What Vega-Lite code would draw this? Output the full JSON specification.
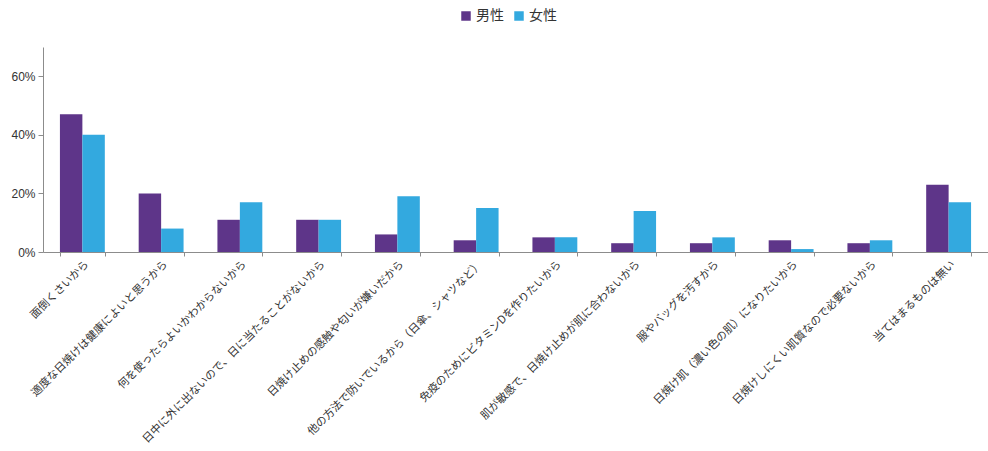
{
  "$schema": "https://vega.github.io/schema/vega-lite/v6.json",
  "width": 945,
  "height": 205,
  "autosize": "none",
  "padding": {"left": 43, "top": 47, "right": 0, "bottom": 199},
  "background": "white",
  "config": {
    "view": {"stroke": null},
    "font": "Noto Sans CJK JP",
    "axis": {"labelFont": "Noto Sans CJK JP", "labelColor": "#333333", "domainColor": "#8c8c8c", "tickColor": "#8c8c8c", "grid": false, "title": null}
  },
  "data": {
    "values": [
      {"reason": "面倒くさいから", "sex": "男性", "value": 0.47},
      {"reason": "面倒くさいから", "sex": "女性", "value": 0.40},
      {"reason": "適度な日焼けは健康によいと思うから", "sex": "男性", "value": 0.20},
      {"reason": "適度な日焼けは健康によいと思うから", "sex": "女性", "value": 0.08},
      {"reason": "何を使ったらよいかわからないから", "sex": "男性", "value": 0.11},
      {"reason": "何を使ったらよいかわからないから", "sex": "女性", "value": 0.17},
      {"reason": "日中に外に出ないので、日に当たることがないから", "sex": "男性", "value": 0.11},
      {"reason": "日中に外に出ないので、日に当たることがないから", "sex": "女性", "value": 0.11},
      {"reason": "日焼け止めの感触や匂いが嫌いだから", "sex": "男性", "value": 0.06},
      {"reason": "日焼け止めの感触や匂いが嫌いだから", "sex": "女性", "value": 0.19},
      {"reason": "他の方法で防いでいるから（日傘、シャツなど）", "sex": "男性", "value": 0.04},
      {"reason": "他の方法で防いでいるから（日傘、シャツなど）", "sex": "女性", "value": 0.15},
      {"reason": "免疫のためにビタミンDを作りたいから", "sex": "男性", "value": 0.05},
      {"reason": "免疫のためにビタミンDを作りたいから", "sex": "女性", "value": 0.05},
      {"reason": "肌が敏感で、日焼け止めが肌に合わないから", "sex": "男性", "value": 0.03},
      {"reason": "肌が敏感で、日焼け止めが肌に合わないから", "sex": "女性", "value": 0.14},
      {"reason": "服やバッグを汚すから", "sex": "男性", "value": 0.03},
      {"reason": "服やバッグを汚すから", "sex": "女性", "value": 0.05},
      {"reason": "日焼け肌（濃い色の肌）になりたいから", "sex": "男性", "value": 0.04},
      {"reason": "日焼け肌（濃い色の肌）になりたいから", "sex": "女性", "value": 0.01},
      {"reason": "日焼けしにくい肌質なので必要ないから", "sex": "男性", "value": 0.03},
      {"reason": "日焼けしにくい肌質なので必要ないから", "sex": "女性", "value": 0.04},
      {"reason": "当てはまるものは無い", "sex": "男性", "value": 0.23},
      {"reason": "当てはまるものは無い", "sex": "女性", "value": 0.17}
    ]
  },
  "mark": {"type": "bar"},
  "encoding": {
    "x": {
      "field": "reason", "type": "nominal", "sort": null,
      "scale": {"paddingInner": 0.43, "paddingOuter": 0.215},
      "axis": {"labelAngle": -45, "labelFontSize": 11, "tickBand": "extent", "tickSize": 4, "labelPadding": 2, "labelLimit": 400, "labelOverlap": false}
    },
    "xOffset": {"field": "sex", "type": "nominal", "sort": ["男性", "女性"]},
    "y": {
      "field": "value", "type": "quantitative",
      "scale": {"domain": [0, 0.7], "nice": false},
      "axis": {"values": [0, 0.2, 0.4, 0.6], "format": ".0%", "labelFontSize": 12, "labelFont": "Liberation Sans", "tickSize": 5, "labelPadding": 3}
    },
    "color": {
      "field": "sex", "type": "nominal",
      "scale": {"domain": ["男性", "女性"], "range": ["#5E3589", "#33A9DF"]},
      "legend": {"orient": "none", "legendX": 416, "legendY": -38, "direction": "horizontal", "title": null, "symbolType": "square", "symbolSize": 90, "labelFontSize": 14, "labelColor": "#333333", "symbolStrokeWidth": 0, "columnPadding": 8, "labelOffset": 3}
    }
  }
}
